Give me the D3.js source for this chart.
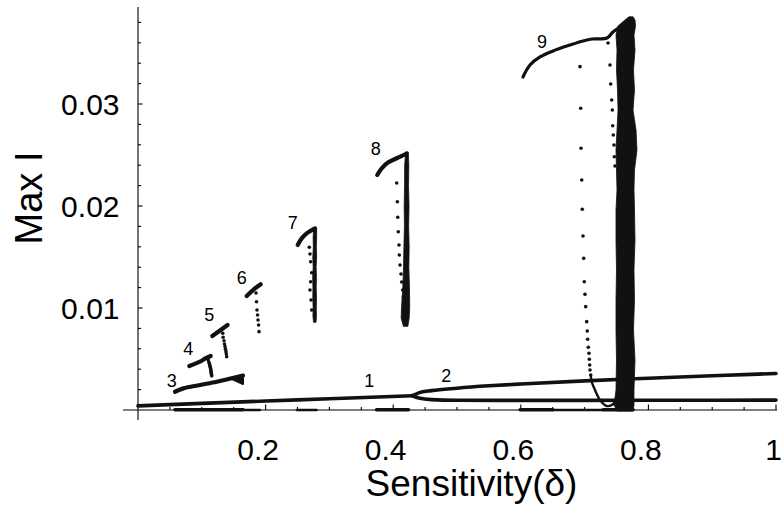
<!DOCTYPE html>
<html>
<head>
<meta charset="utf-8">
<script src="https://cdn.jsdelivr.net/npm/d3@7"></script>
<style>
  body { margin: 0; background: #fff; }
  svg { display: block; }
  text { font-family: "Liberation Sans", Arial, Helvetica, sans-serif; fill: #000; }
</style>
</head>
<body>
<svg id="chart" width="782" height="513"></svg>
<script>
// ---- Data: bifurcation diagram of Max I against sensitivity δ ----

// tick labels
const xTickValues = [0.2, 0.4, 0.6, 0.8, 1];
const xTickLabels = ["0.2", "0.4", "0.6", "0.8", "1"];
const yTickValues = [0.01, 0.02, 0.03];
const yTickLabels = ["0.01", "0.02", "0.03"];

// period-1 branch before the split, then its two continuations
const mainBranch = [[0, 0.0004], [0.1, 0.00065], [0.2, 0.00088], [0.3, 0.0011], [0.43, 0.0014]];
const upperBranch = [[0.43, 0.0014], [0.44, 0.00168], [0.46, 0.0019], [0.5, 0.00214], [0.55, 0.00237],
  [0.6, 0.00255], [0.7, 0.00286], [0.8, 0.00312], [0.9, 0.00336], [1.0, 0.00358]];
const lowerBranch = [[0.43, 0.0014], [0.44, 0.00118], [0.46, 0.00102], [0.5, 0.00096], [0.6, 0.00094],
  [0.8, 0.00095], [1.0, 0.00097]];

// periodic-window branches 3..9
const branch3 = [[0.058, 0.00179], [0.071, 0.00212], [0.0972, 0.00245], [0.1234, 0.00277], [0.1469, 0.00311], [0.1646, 0.00338]];
const branch4 = [[0.0804, 0.00431], [0.0972, 0.00475], [0.105, 0.00503], [0.1139, 0.00529]];
const branch5 = [[0.1165, 0.00725], [0.1285, 0.00779], [0.1404, 0.00833]];
const branch6 = [[0.1704, 0.01118], [0.1803, 0.01176], [0.1923, 0.01232]];
const branch7 = [[0.2503, 0.01618], [0.2566, 0.01683], [0.2644, 0.01732], [0.2774, 0.01781]];
const branch8 = [[0.375, 0.02304], [0.382, 0.0237], [0.3923, 0.02428], [0.4055, 0.02468], [0.4211, 0.02513]];
const branch9 = [[0.6034, 0.03265], [0.6144, 0.03382], [0.6301, 0.03461], [0.6505, 0.0352], [0.6771, 0.03578],
  [0.6975, 0.03618], [0.7116, 0.03637], [0.7351, 0.03647], [0.7445, 0.03706], [0.7555, 0.03755], [0.7649, 0.03804]];

// end of branch 3 (filled wedge of points)
const wedge3 = [[0.144, 0.00312], [0.1646, 0.00345], [0.1646, 0.00255]];

// scattered maxima below the branch ends
const tail4 = [[0.11, 0.0049], [0.111, 0.0047], [0.1118, 0.00455], [0.1124, 0.0044], [0.1129, 0.00428], [0.1134, 0.00415],
  [0.1139, 0.00405], [0.1142, 0.00392], [0.1144, 0.0038], [0.1147, 0.00368], [0.1149, 0.00358], [0.1152, 0.00346], [0.1155, 0.00335]];
const tail5 = [[0.1328, 0.00752], [0.1335, 0.00713], [0.1348, 0.00679], [0.1356, 0.00647], [0.1364, 0.00621],
  [0.1371, 0.00595], [0.1379, 0.00572], [0.1384, 0.00549], [0.139, 0.00523]];
const tail6 = [[0.185, 0.01147], [0.1858, 0.01062], [0.1865, 0.0098], [0.1874, 0.00931], [0.1881, 0.00882],
  [0.189, 0.00833], [0.1897, 0.00768]];
const tail7 = [[0.2685, 0.01595], [0.2696, 0.0153], [0.2706, 0.01454], [0.2722, 0.01346], [0.2706, 0.01258],
  [0.2696, 0.01176], [0.2712, 0.01078], [0.2722, 0.0098]];
const tail8 = [[0.4055, 0.02225], [0.4065, 0.02042], [0.4071, 0.01889], [0.408, 0.01748], [0.4091, 0.01618],
  [0.4096, 0.0152], [0.4107, 0.01422], [0.4122, 0.01333], [0.4133, 0.01255], [0.4149, 0.01176], [0.4159, 0.01108],
  [0.417, 0.01039], [0.4175, 0.0098], [0.418, 0.00922]];
const tail9a = [[0.6928, 0.03366], [0.6939, 0.02958], [0.6944, 0.02566], [0.6955, 0.02255], [0.6964, 0.01968],
  [0.6975, 0.01706], [0.6986, 0.01487], [0.6995, 0.01258], [0.7006, 0.01134], [0.7017, 0.01013], [0.7033, 0.00866],
  [0.7042, 0.00775], [0.7048, 0.00693], [0.7058, 0.00615], [0.7069, 0.00556], [0.7074, 0.00497], [0.708, 0.00441],
  [0.7085, 0.00392], [0.7096, 0.00343]];
const tail9b = [[0.7367, 0.03598], [0.7398, 0.03382], [0.7409, 0.03196], [0.7425, 0.03039], [0.7434, 0.02941],
  [0.7441, 0.02787], [0.745, 0.02696], [0.7461, 0.02598], [0.7466, 0.02483], [0.7476, 0.02392]];
// continuous trough that closes the window below branch 9
const trough9 = [[0.7096, 0.00343], [0.7111, 0.00277], [0.7163, 0.00196], [0.7241, 0.00098], [0.7346, 0.00039],
  [0.745, 0.00059], [0.7503, 0.00118]];

// dense (chaotic) columns: [Max I, δ left edge, δ right edge]
const band7 = [[0.0178, 0.2755, 0.28], [0.017, 0.2745, 0.28], [0.016, 0.2748, 0.2795], [0.015, 0.274, 0.28],
  [0.014, 0.2745, 0.2792], [0.013, 0.2738, 0.2797], [0.012, 0.2742, 0.2793], [0.011, 0.274, 0.2798],
  [0.01, 0.2745, 0.2794], [0.0092, 0.2742, 0.2797], [0.0086, 0.2752, 0.279]];
const band8 = [[0.0253, 0.4195, 0.4235], [0.024, 0.418, 0.4245], [0.022, 0.4178, 0.424], [0.02, 0.4172, 0.4248],
  [0.018, 0.4176, 0.4242], [0.016, 0.4168, 0.425], [0.014, 0.4162, 0.4245], [0.012, 0.415, 0.4255],
  [0.01, 0.413, 0.4258], [0.009, 0.4125, 0.425], [0.0082, 0.416, 0.423]];
const band9 = [[0.03855, 0.7696, 0.7759], [0.03824, 0.7633, 0.779], [0.03765, 0.7524, 0.7798], [0.03676, 0.7492, 0.7774],
  [0.0353, 0.7508, 0.779], [0.03333, 0.75, 0.7766], [0.03137, 0.7516, 0.7782], [0.02941, 0.7524, 0.7759],
  [0.02745, 0.7508, 0.7806], [0.02549, 0.7492, 0.7821], [0.02353, 0.75, 0.7782], [0.02157, 0.7508, 0.7774],
  [0.01961, 0.7492, 0.7782], [0.01667, 0.7492, 0.779], [0.01373, 0.75, 0.7774], [0.01078, 0.7492, 0.7782],
  [0.00784, 0.7492, 0.7766], [0.0049, 0.75, 0.779], [0.00196, 0.7492, 0.7774], [0.00049, 0.7461, 0.7774],
  [-0.0001, 0.7508, 0.7759]];

// runs of near-zero maxima lying on the δ axis
const floorRuns = [[0.058, 0.165], [0.374, 0.424], [0.599, 0.65], [0.729, 0.776]];
const floorRunsThin = [[0.168, 0.191], [0.249, 0.28], [0.65, 0.729]];

// branch labels: [text, δ, Max I]
const branchLabels = [["1", 0.3625, 0.00223], ["2", 0.4831, 0.00277], ["3", 0.0528, 0.00228], ["4", 0.0788, 0.00539],
  ["5", 0.1116, 0.00875], ["6", 0.1625, 0.01232], ["7", 0.2426, 0.01775], ["8", 0.3726, 0.025], ["9", 0.6332, 0.03546]];

// ---- Drawing ----
const svg = d3.select("#chart");
const x = d3.scaleLinear().domain([0, 1]).range([138, 776]);
const y = d3.scaleLinear().domain([0, 0.04]).range([410, 2]);
const ink = "#111";

// axes
const axes = svg.append("g").attr("stroke", "#000").attr("stroke-width", 1.1);
axes.append("line").attr("x1", x(-0.0235)).attr("x2", x(1.0016)).attr("y1", y(0)).attr("y2", y(0));
axes.append("line").attr("x1", x(0)).attr("x2", x(0)).attr("y1", y(0.0395)).attr("y2", y(-0.00098));

const xMinor = d3.range(1, 21).map(i => i * 0.05);
axes.selectAll(".xt").data(xMinor).join("line")
  .attr("x1", d => x(d)).attr("x2", d => x(d))
  .attr("y1", y(0))
  .attr("y2", (d, i) => y(0) - ((i + 1) % 4 === 0 ? 5.5 : 3));
const yMinor = d3.range(1, 20).map(i => i * 0.002);
axes.selectAll(".yt").data(yMinor).join("line")
  .attr("y1", d => y(d)).attr("y2", d => y(d))
  .attr("x1", x(0))
  .attr("x2", (d, i) => x(0) + ((i + 1) % 5 === 0 ? 4.5 : 3));

svg.selectAll(".xl").data(xTickValues).join("text")
  .attr("x", d => x(d)).attr("y", 460)
  .attr("dx", (d, i) => xTickLabels[i].includes(".") ? -7.5 : -2.5)
  .attr("text-anchor", "middle").attr("font-size", 30)
  .text((d, i) => xTickLabels[i]);
svg.selectAll(".yl").data(yTickValues).join("text")
  .attr("x", 119.5).attr("y", d => y(d))
  .attr("dy", "0.36em")
  .attr("text-anchor", "end").attr("font-size", 30)
  .text((d, i) => yTickLabels[i]);

svg.append("text").attr("x", 471.5).attr("y", 496)
  .attr("text-anchor", "middle").attr("font-size", 37)
  .text("Sensitivity(δ)");
svg.append("text").attr("transform", "translate(42,198) rotate(-90)")
  .attr("text-anchor", "middle").attr("font-size", 38)
  .text("Max I");

// runs on the axis
const runs = svg.append("g").attr("stroke", ink).attr("stroke-linecap", "round");
runs.selectAll(".r").data(floorRuns).join("line")
  .attr("x1", d => x(d[0])).attr("x2", d => x(d[1]))
  .attr("y1", y(0) - 0.3).attr("y2", y(0) - 0.3).attr("stroke-width", 3.6);
runs.selectAll(".rt").data(floorRunsThin).join("line")
  .attr("x1", d => x(d[0])).attr("x2", d => x(d[1]))
  .attr("y1", y(0)).attr("y2", y(0)).attr("stroke-width", 2.4);

// curves
const line = d3.line().x(d => x(d[0])).y(d => y(d[1])).curve(d3.curveMonotoneX);
const lineN = d3.line().x(d => x(d[0])).y(d => y(d[1])).curve(d3.curveCatmullRom);
const curves = svg.append("g").attr("fill", "none").attr("stroke", ink)
  .attr("stroke-linecap", "round").attr("stroke-linejoin", "round");

[mainBranch, upperBranch, lowerBranch].forEach(b =>
  curves.append("path").attr("d", line(b)).attr("stroke-width", 3.6));
[branch3, branch4, branch5, branch6, branch7, branch8].forEach(b =>
  curves.append("path").attr("d", lineN(b)).attr("stroke-width", 4.2));
curves.append("path").attr("d", lineN(branch9)).attr("stroke-width", 3.2);
curves.append("path").attr("d", lineN(trough9)).attr("stroke-width", 2.4);

svg.append("path")
  .attr("d", d3.line().x(d => x(d[0])).y(d => y(d[1]))(wedge3) + "Z")
  .attr("fill", ink).attr("stroke", ink).attr("stroke-width", 2).attr("stroke-linejoin", "round");

// dense columns
const area = d3.area().y(d => y(d[0])).x0(d => x(d[1])).x1(d => x(d[2]));
[band7, band8, band9].forEach(b =>
  svg.append("path").attr("d", area(b)).attr("fill", ink).attr("stroke", ink).attr("stroke-width", 0.8));

// scattered points
const pts = [].concat(tail4, tail5, tail6, tail7, tail8, tail9a, tail9b);
svg.append("g").attr("fill", ink).selectAll("circle").data(pts).join("circle")
  .attr("cx", d => x(d[0])).attr("cy", d => y(d[1])).attr("r", 1.8);

// branch labels
svg.append("g").selectAll("text").data(branchLabels).join("text")
  .attr("x", d => x(d[1])).attr("y", d => y(d[2]))
  .attr("text-anchor", "middle").attr("font-size", 18).attr("fill", "#222")
  .text(d => d[0]);
</script>
</body>
</html>
